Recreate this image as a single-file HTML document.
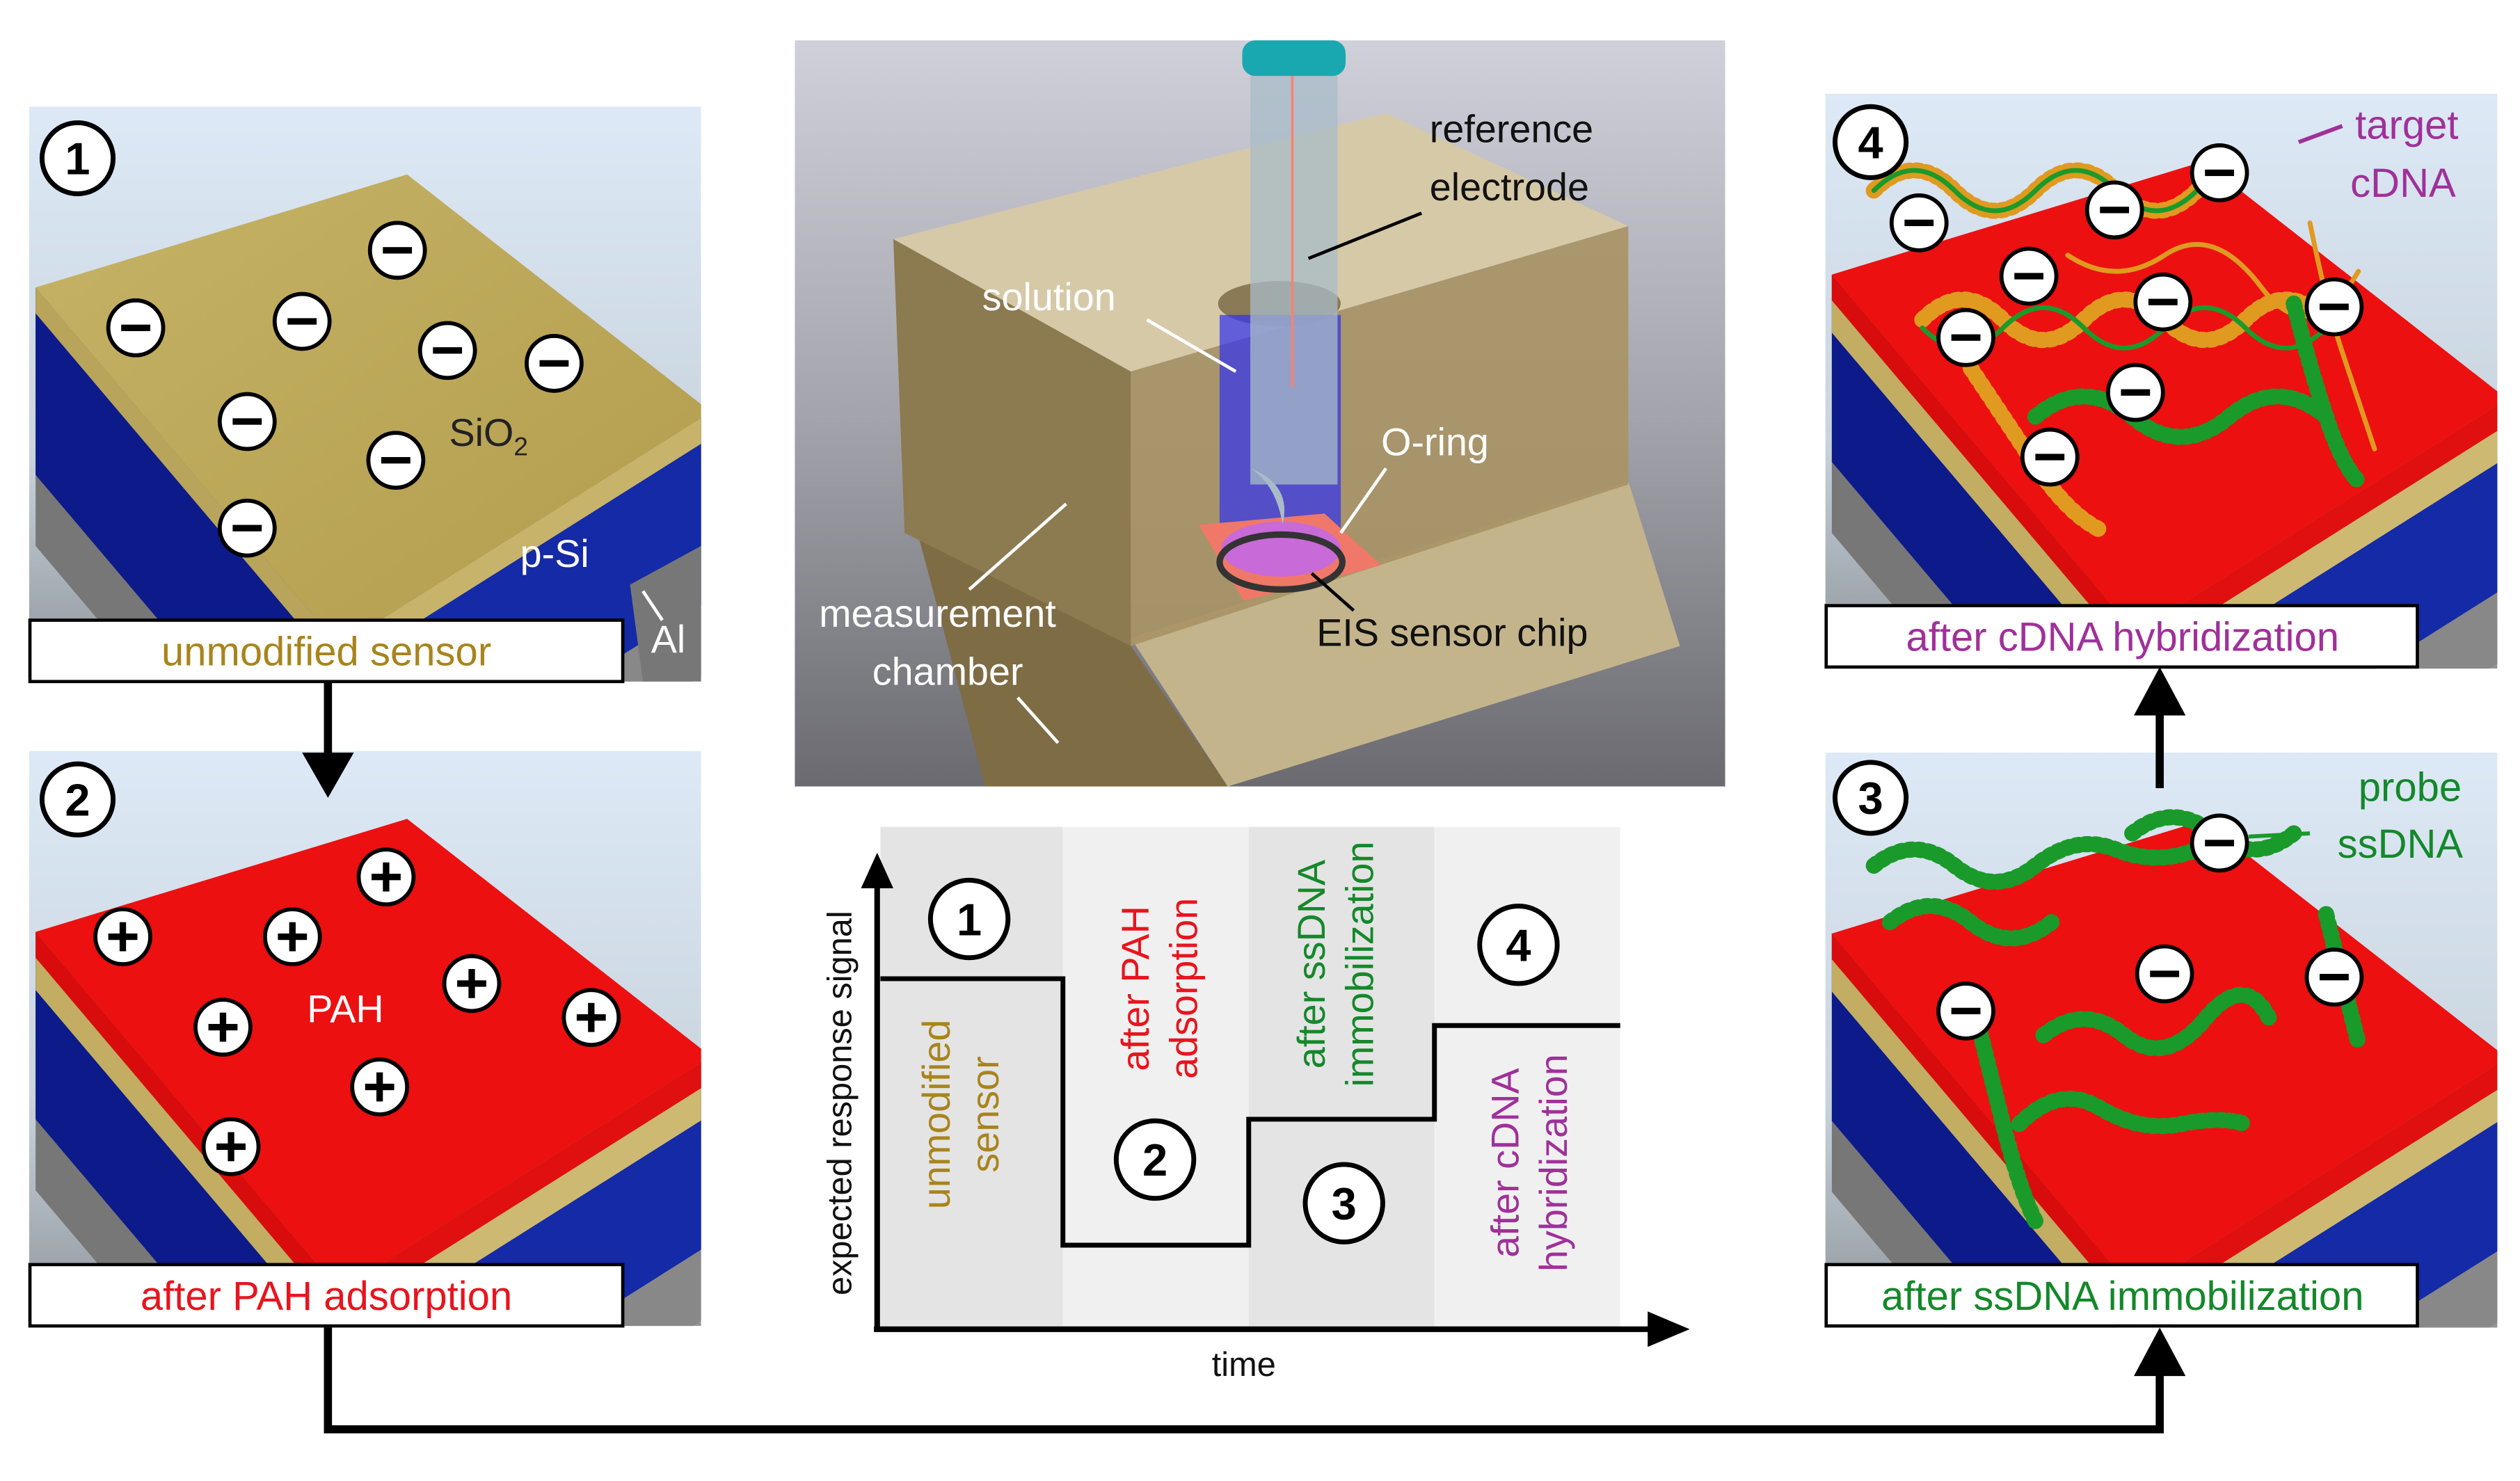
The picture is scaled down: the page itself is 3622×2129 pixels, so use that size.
<!DOCTYPE html>
<html><head><meta charset="utf-8"><style>
html,body{margin:0;padding:0;background:#fff;}
svg{display:block;font-family:"Liberation Sans",sans-serif;}
</style></head><body>
<svg width="3622" height="2129" viewBox="0 0 1560 917" xmlns="http://www.w3.org/2000/svg">
<defs>
<linearGradient id="bg" x1="0" y1="0" x2="0" y2="1"><stop offset="0" stop-color="#dde9f6"/><stop offset="0.6" stop-color="#c9d4de"/><stop offset="1" stop-color="#8e9499"/></linearGradient>
<linearGradient id="sc" x1="0" y1="0" x2="0" y2="1"><stop offset="0" stop-color="#cfd0da"/><stop offset="0.5" stop-color="#a4a4ac"/><stop offset="1" stop-color="#6a6a70"/></linearGradient>
<linearGradient id="yt" x1="0" y1="0" x2="1" y2="1"><stop offset="0" stop-color="#c6b366"/><stop offset="1" stop-color="#b29c4c"/></linearGradient>
<clipPath id="pc"><rect x="0" y="0" width="416" height="356"/></clipPath>
<clipPath id="scc"><rect x="492" y="25" width="576" height="462"/></clipPath>
<g id="m"><circle r="17" fill="#fff" stroke="#000" stroke-width="2.5"/><rect x="-9" y="-2" width="18" height="4" fill="#000"/></g>
<g id="p"><circle r="17" fill="#fff" stroke="#000" stroke-width="2.5"/><rect x="-9" y="-2" width="18" height="4" fill="#000"/><rect x="-2" y="-9" width="4" height="18" fill="#000"/></g>
<g id="sides">
<polygon points="4,112 192,334 192,494 4,272" fill="#777"/><polygon points="192,334 422,189 422,349 192,494" fill="#888"/>
<polygon points="4,112 192,334 192,450 4,228" fill="#0c1a8a"/><polygon points="192,334 422,189 422,305 192,450" fill="#142aa6"/>
</g>
</defs>
<rect width="1560" height="917" fill="#fff"/>

<!-- Panel 1 -->
<g transform="translate(18,66)">
<g clip-path="url(#pc)">
<rect width="416" height="356" fill="url(#bg)"/>
<use href="#sides"/>
<polygon points="4,112 192,334 192,350 4,128" fill="#b8a45a"/><polygon points="192,334 422,189 422,205 192,350" fill="#c7b46a"/>
<polygon points="4,112 234,42 422,189 192,334" fill="url(#yt)"/>
<polygon points="372,296 416,272 416,356 380,356" fill="#777"/>
</g>
<circle cx="30" cy="32" r="22" fill="#fff" stroke="#000" stroke-width="3"/><text x="30" y="42" font-size="28" font-weight="bold" text-anchor="middle">1</text>
<use href="#m" x="228" y="89"/><use href="#m" x="66" y="137"/><use href="#m" x="169" y="133"/><use href="#m" x="259" y="151"/><use href="#m" x="325" y="159"/><use href="#m" x="135" y="195"/><use href="#m" x="227" y="219"/><use href="#m" x="135" y="261"/>
<text x="260" y="210" font-size="24" fill="#222">SiO<tspan font-size="16" dy="6">2</tspan></text>
<text x="304" y="285" font-size="24" fill="#fff">p-Si</text>
<line x1="380" y1="300" x2="392" y2="318" stroke="#fff" stroke-width="2"/>
<text x="385" y="338" font-size="24" fill="#fff">Al</text>
<rect x="0.5" y="318" width="367" height="38" fill="#fff" stroke="#000" stroke-width="2"/>
<text x="184" y="346" font-size="25" fill="#a8841c" text-anchor="middle">unmodified sensor</text>
</g>

<!-- Panel 2 -->
<g transform="translate(18,465)">
<g clip-path="url(#pc)">
<rect width="416" height="356" fill="url(#bg)"/>
<use href="#sides"/>
<polygon points="4,112 192,334 192,370 4,148" fill="#c2ad62"/><polygon points="192,334 422,189 422,225 192,370" fill="#cdb972"/>
<polygon points="4,112 192,334 192,350 4,128" fill="#d80c0c"/><polygon points="192,334 422,189 422,205 192,350" fill="#e01010"/>
<polygon points="4,112 234,42 422,189 192,334" fill="#ec1010"/>
</g>
<circle cx="30" cy="30" r="22" fill="#fff" stroke="#000" stroke-width="3"/><text x="30" y="40" font-size="28" font-weight="bold" text-anchor="middle">2</text>
<use href="#p" x="221" y="78"/><use href="#p" x="58" y="115"/><use href="#p" x="163" y="115"/><use href="#p" x="274" y="144"/><use href="#p" x="120" y="171"/><use href="#p" x="348" y="165"/><use href="#p" x="217" y="208"/><use href="#p" x="125" y="245"/>
<text x="172" y="168" font-size="24" fill="#fff">PAH</text>
<rect x="0.5" y="318" width="367" height="38" fill="#fff" stroke="#000" stroke-width="2"/>
<text x="184" y="346" font-size="25" fill="#e8141e" text-anchor="middle">after PAH adsorption</text>
</g>

<!-- Panel 4 -->
<g transform="translate(1130,58)">
<g clip-path="url(#pc)">
<rect width="416" height="356" fill="url(#bg)"/>
<use href="#sides"/>
<polygon points="4,112 192,334 192,370 4,148" fill="#c2ad62"/><polygon points="192,334 422,189 422,225 192,370" fill="#cdb972"/>
<polygon points="4,112 192,334 192,350 4,128" fill="#d80c0c"/><polygon points="192,334 422,189 422,205 192,350" fill="#e01010"/>
<polygon points="4,112 234,42 422,189 192,334" fill="#ec1010"/>
<g fill="none" stroke-linecap="round">
<path d="M30,60 q25,-25 50,0 t50,0 t50,0 t50,0" stroke="#e09a20" stroke-width="10" stroke-dasharray="2 4"/>
<path d="M30,60 q25,-25 50,0 t50,0 t50,0 t50,0" stroke="#1a9a2a" stroke-width="3"/>
<path d="M60,140 q25,-25 50,0 t50,0 t50,0 t50,0 t50,0" stroke="#e09a20" stroke-width="10" stroke-dasharray="2 4"/>
<path d="M60,145 q25,25 50,0 t50,0 t50,0 t50,0 t50,0" stroke="#1a9a2a" stroke-width="3"/>
<path d="M90,170 q20,30 40,60 t40,40" stroke="#1a9a2a" stroke-width="3"/>
<path d="M90,170 q20,30 40,60 t40,40" stroke="#e09a20" stroke-width="10" stroke-dasharray="2 4"/>
<path d="M150,100 q30,20 60,0 t60,20 t60,-10" stroke="#e09a20" stroke-width="3"/>
<path d="M130,200 q30,-25 60,0 t60,0 t60,0" stroke="#1a9a2a" stroke-width="10" stroke-dasharray="2 4"/>
<path d="M300,80 q10,50 20,80 t20,60" stroke="#e09a20" stroke-width="3"/>
<path d="M290,130 q10,40 20,70 t20,40" stroke="#1a9a2a" stroke-width="10" stroke-dasharray="2 4"/>
</g>
</g>
<circle cx="28" cy="30" r="22" fill="#fff" stroke="#000" stroke-width="3"/><text x="28" y="40" font-size="28" font-weight="bold" text-anchor="middle">4</text>
<use href="#m" x="58" y="80"/><use href="#m" x="179" y="72"/><use href="#m" x="244" y="49"/><use href="#m" x="126" y="113"/><use href="#m" x="209" y="129"/><use href="#m" x="87" y="151"/><use href="#m" x="315" y="132"/><use href="#m" x="192" y="185"/><use href="#m" x="139" y="225"/>
<line x1="293" y1="30" x2="320" y2="20" stroke="#a0309a" stroke-width="2.5"/>
<text x="328" y="28" font-size="25" fill="#a0309a">target</text>
<text x="325" y="64" font-size="25" fill="#a0309a">cDNA</text>
<rect x="0.5" y="317" width="366" height="38" fill="#fff" stroke="#000" stroke-width="2"/>
<text x="184" y="345" font-size="25" fill="#a0309a" text-anchor="middle">after cDNA hybridization</text>
</g>

<!-- Panel 3 -->
<g transform="translate(1130,466)">
<g clip-path="url(#pc)">
<rect width="416" height="356" fill="url(#bg)"/>
<use href="#sides"/>
<polygon points="4,112 192,334 192,370 4,148" fill="#c2ad62"/><polygon points="192,334 422,189 422,225 192,370" fill="#cdb972"/>
<polygon points="4,112 192,334 192,350 4,128" fill="#d80c0c"/><polygon points="192,334 422,189 422,205 192,350" fill="#e01010"/>
<polygon points="4,112 234,42 422,189 192,334" fill="#ec1010"/>
<g fill="none" stroke="#1a9a2a" stroke-linecap="round">
<path d="M30,70 q25,-20 50,0 t50,0 t50,-10 t50,0" stroke-width="10" stroke-dasharray="2 4"/>
<path d="M30,70 q25,-20 50,0 t50,0 t50,-10 t50,0" stroke-width="3"/>
<path d="M40,105 q25,-20 50,0 t50,0" stroke-width="10" stroke-dasharray="2 4"/>
<path d="M90,150 q10,40 20,80 t20,60" stroke-width="10" stroke-dasharray="2 4"/>
<path d="M135,175 q25,-20 50,0 t50,-10 t40,0" stroke-width="10" stroke-dasharray="2 4"/>
<path d="M135,175 q25,-20 50,0 t50,-10 t40,0" stroke-width="3"/>
<path d="M120,230 q25,-25 50,-10 t50,10 t40,0" stroke-width="10" stroke-dasharray="2 4"/>
<path d="M310,100 q10,40 20,80" stroke-width="10" stroke-dasharray="2 4"/>
<path d="M190,50 q25,-20 50,0 t50,0" stroke-width="10" stroke-dasharray="2 4"/>
</g>
</g>
<circle cx="28" cy="28" r="22" fill="#fff" stroke="#000" stroke-width="3"/><text x="28" y="38" font-size="28" font-weight="bold" text-anchor="middle">3</text>
<use href="#m" x="244" y="56"/><use href="#m" x="210" y="137"/><use href="#m" x="315" y="139"/><use href="#m" x="87" y="160"/>
<line x1="262" y1="52" x2="300" y2="50" stroke="#1a9a2a" stroke-width="2.5"/>
<text x="330" y="30" font-size="25" fill="#14882a">probe</text>
<text x="317" y="65" font-size="25" fill="#14882a">ssDNA</text>
<rect x="0.5" y="317" width="366" height="38" fill="#fff" stroke="#000" stroke-width="2"/>
<text x="184" y="345" font-size="25" fill="#14882a" text-anchor="middle">after ssDNA immobilization</text>
</g>

<!-- Arrows -->
<line x1="203" y1="422" x2="203" y2="468" stroke="#000" stroke-width="5"/>
<polygon points="187,466 219,466 203,494" fill="#000"/>
<path d="M203,822 V885 H1337 V850" fill="none" stroke="#000" stroke-width="5"/>
<polygon points="1321,852 1353,852 1337,822" fill="#000"/>
<line x1="1337" y1="488" x2="1337" y2="440" stroke="#000" stroke-width="5"/>
<polygon points="1321,443 1353,443 1337,413" fill="#000"/>

<!-- Center scene -->
<g clip-path="url(#scc)">
<rect x="492" y="25" width="576" height="462" fill="url(#sc)"/>
<polygon points="560,300 700,400 760,487 610,487" fill="#7e6c44"/>
<polygon points="700,395 1008,298 1040,400 760,487" fill="#c4b48c"/>
<polygon points="553,148 700,230 700,400 560,330" fill="#8c7a50"/>
<polygon points="700,230 1008,140 1008,300 700,400" fill="#a89466" opacity="0.92"/>
<polygon points="553,148 858,70 1008,140 700,230" fill="#d6c9a8"/>
<ellipse cx="792" cy="188" rx="38" ry="14" fill="#8a7a55"/>
<rect x="755" y="195" width="75" height="140" fill="#3030f0" opacity="0.7"/>
<polygon points="742,325 820,318 855,350 770,372" fill="#f07868"/>
<ellipse cx="793" cy="340" rx="37" ry="17" fill="#c86ad8"/>
<ellipse cx="793" cy="348" rx="38" ry="17" fill="none" stroke="#333" stroke-width="4"/>
<rect x="774" y="40" width="54" height="260" fill="#a8bcc8" opacity="0.75"/>
<path d="M774,290 Q800,300 794,325 Q790,300 774,290Z" fill="#a8bcc8"/>
<line x1="800" y1="45" x2="800" y2="240" stroke="#ff8070" stroke-width="1.5"/>
<rect x="769" y="25" width="64" height="22" rx="8" fill="#1aa8b0"/>
</g>
<text x="885" y="88" font-size="24" fill="#111">reference</text>
<text x="885" y="124" font-size="24" fill="#111">electrode</text>
<line x1="880" y1="132" x2="810" y2="160" stroke="#000" stroke-width="2"/>
<text x="608" y="192" font-size="24" fill="#fff">solution</text>
<line x1="710" y1="198" x2="765" y2="230" stroke="#fff" stroke-width="2"/>
<text x="855" y="282" font-size="24" fill="#fff">O-ring</text>
<line x1="858" y1="290" x2="830" y2="330" stroke="#fff" stroke-width="2"/>
<text x="815" y="400" font-size="24" fill="#111">EIS sensor chip</text>
<line x1="838" y1="378" x2="812" y2="355" stroke="#000" stroke-width="2"/>
<text x="507" y="388" font-size="24" fill="#fff">measurement</text>
<text x="540" y="424" font-size="24" fill="#fff">chamber</text>
<line x1="660" y1="312" x2="600" y2="365" stroke="#fff" stroke-width="2"/>
<line x1="630" y1="432" x2="655" y2="460" stroke="#fff" stroke-width="2"/>

<!-- Chart -->
<rect x="545" y="512" width="113" height="310" fill="#e4e4e4"/>
<rect x="658" y="512" width="115" height="310" fill="#f0f0f0"/>
<rect x="773" y="512" width="115" height="310" fill="#e4e4e4"/>
<rect x="888" y="512" width="115" height="310" fill="#f0f0f0"/>
<polyline points="545,606 658,606 658,771 773,771 773,693 888,693 888,635 1003,635" fill="none" stroke="#000" stroke-width="3"/>
<line x1="543" y1="823" x2="543" y2="545" stroke="#000" stroke-width="3.5"/>
<polygon points="533,550 553,550 543,528" fill="#000"/>
<line x1="541" y1="823" x2="1022" y2="823" stroke="#000" stroke-width="3.5"/>
<polygon points="1020,812 1020,834 1046,823" fill="#000"/>
<text transform="translate(527,683) rotate(-90)" font-size="21" text-anchor="middle" fill="#111">expected response signal</text>
<text x="770" y="852" font-size="21" text-anchor="middle" fill="#111">time</text>
<g font-size="24" text-anchor="middle">
<text transform="translate(588,690) rotate(-90)" fill="#a8841c">unmodified</text>
<text transform="translate(618,690) rotate(-90)" fill="#a8841c">sensor</text>
<text transform="translate(711,612) rotate(-90)" fill="#e8141e">after PAH</text>
<text transform="translate(741,612) rotate(-90)" fill="#e8141e">adsorption</text>
<text transform="translate(820,597) rotate(-90)" fill="#14882a">after ssDNA</text>
<text transform="translate(850,597) rotate(-90)" fill="#14882a">immobilization</text>
<text transform="translate(940,720) rotate(-90)" fill="#a0309a">after cDNA</text>
<text transform="translate(970,720) rotate(-90)" fill="#a0309a">hybridization</text>
</g>
<g font-size="28" font-weight="bold" text-anchor="middle">
<circle cx="600" cy="569" r="24" fill="#fff" stroke="#000" stroke-width="3"/><text x="600" y="579">1</text>
<circle cx="715" cy="718" r="24" fill="#fff" stroke="#000" stroke-width="3"/><text x="715" y="728">2</text>
<circle cx="832" cy="745" r="24" fill="#fff" stroke="#000" stroke-width="3"/><text x="832" y="755">3</text>
<circle cx="940" cy="585" r="24" fill="#fff" stroke="#000" stroke-width="3"/><text x="940" y="595">4</text>
</g>
</svg>
</body></html>
